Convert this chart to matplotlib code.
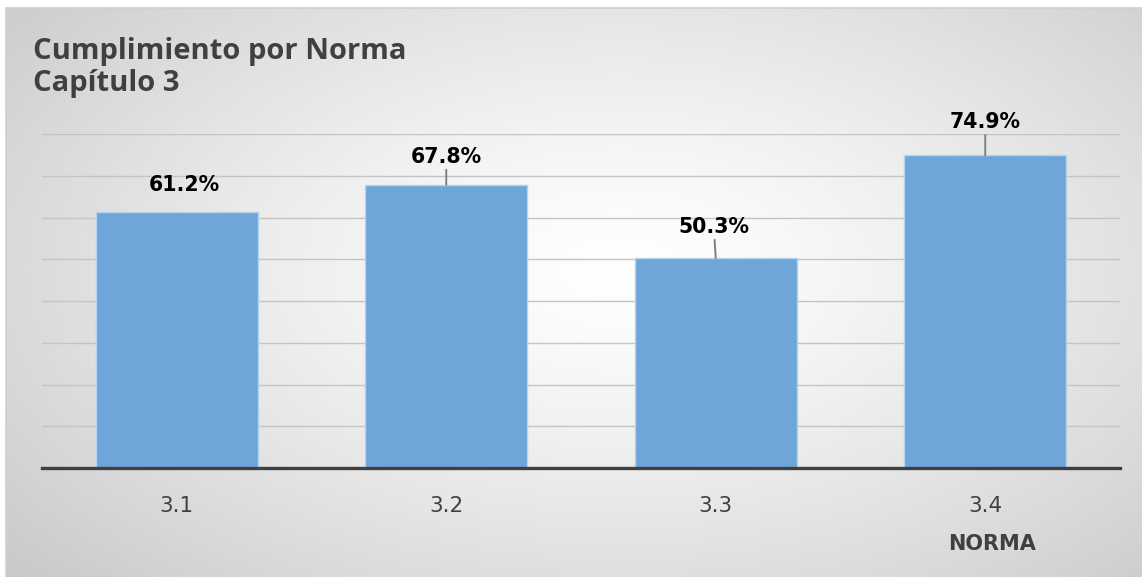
import numpy as np
import matplotlib
matplotlib.use("Agg")
import matplotlib.pyplot as plt

categories = ["3.1", "3.2", "3.3", "3.4"]
values = [61.2, 67.8, 50.3, 74.9]
value_labels = ["61.2%", "67.8%", "50.3%", "74.9%"]
title_text = "Cumplimiento por Norma\nCapítulo 3"
axis_title = "NORMA"

plt.rcParams['font.family'] = ['DejaVu Sans']

W, H = 1142, 577
fig = plt.figure(figsize=(W / 100, H / 100), dpi=100)
fig.patch.set_facecolor("white")

# background radial gradient
bg = fig.add_axes([6 / W, 0, 1 - 6 / W, 1 - 8 / H])
bg.set_axis_off()
nx, ny = 600, 300
xx, yy = np.meshgrid(np.linspace(6, W, nx), np.linspace(8, H, ny))
r = np.sqrt(((xx - 620) / 600) ** 2 + ((yy - 270) / 340) ** 2)
g = 1.0 - 0.21 * np.clip(r / 1.35, 0, 1) ** 1.3
img = np.dstack([g, g, g])
bg.imshow(img, extent=[0, 1, 0, 1], aspect="auto", origin="upper")
bg.set_xlim(0, 1)
bg.set_ylim(0, 1)
bg.plot([0, 1], [1, 1], color="#d0d0d0", lw=1.2, transform=bg.transAxes, clip_on=False)
bg.plot([0, 0], [0, 1], color="#d0d0d0", lw=1.2, transform=bg.transAxes, clip_on=False)

left, right, top, bottom = 42, 1120, 134, 468
ax = fig.add_axes([left / W, (H - bottom) / H, (right - left) / W, (bottom - top) / H])
ax.set_facecolor("none")
x = np.arange(len(categories))
ax.bar(x, values, width=0.6, color="#6fa6d9", edgecolor="#b5d3ef", linewidth=1.0, zorder=3)
ax.set_xlim(-0.5, len(categories) - 0.5)
ax.set_ylim(0, 80)
ax.set_yticks(np.arange(10, 81, 10))
ax.yaxis.grid(True, color="#c4c4c4", lw=1.0, zorder=0)
ax.set_axisbelow(True)
ax.tick_params(axis="y", left=False, labelleft=False)
ax.tick_params(axis="x", bottom=False, labelsize=15.5, labelcolor="#404040", pad=17)
ax.set_xticks(x)
ax.set_xticklabels(categories)
for s in ["top", "right", "left"]:
    ax.spines[s].set_visible(False)
ax.spines["bottom"].set_color("#404040")
ax.spines["bottom"].set_linewidth(2.4)
ax.spines["bottom"].set_zorder(4)

label_dx = [8, 0, -2, 0]
label_dy = [27, 28, 31, 33]
leader = [False, True, True, True]
for i, (v, lab) in enumerate(zip(values, value_labels)):
    kw = {}
    if leader[i]:
        kw["arrowprops"] = dict(arrowstyle="-", color="#808080", lw=1.4, shrinkA=0, shrinkB=0)
    ax.annotate(lab, xy=(i, v), xytext=(label_dx[i] * 0.72, label_dy[i] * 0.72),
                textcoords="offset points", ha="center", va="center",
                fontsize=14.8, fontweight="bold", color="black", zorder=5,
                annotation_clip=False, **kw)

fig.text(33 / W, 1 - 37 / H, title_text, ha="left", va="top", fontsize=21,
         fontweight="bold", color="#404040", linespacing=1.15,
         family=['Open Sans', 'DejaVu Sans'])
fig.text(992 / W, 1 - 544 / H, axis_title, ha="center", va="center", fontsize=15,
         fontweight="bold", color="#404040")

fig.savefig("out.png", dpi=100, facecolor=fig.get_facecolor())
